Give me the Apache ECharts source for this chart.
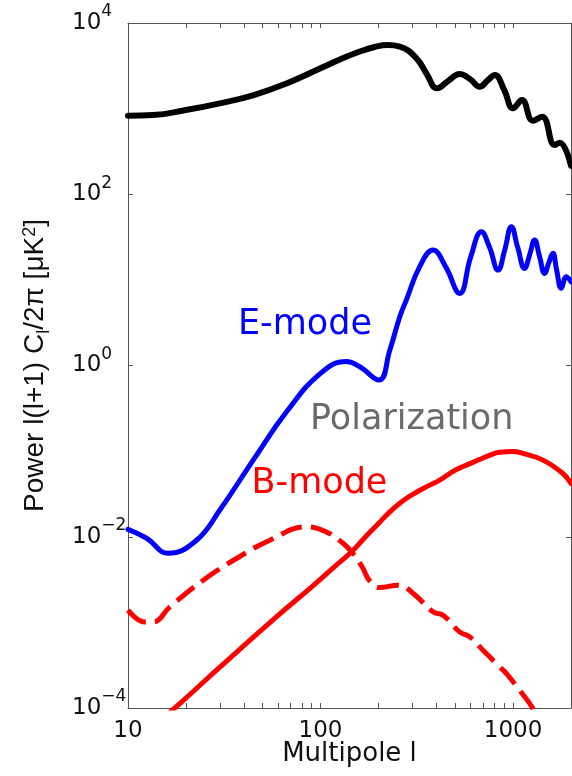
<!DOCTYPE html>
<html><head><meta charset="utf-8">
<script src="https://cdn.jsdelivr.net/npm/echarts@6/dist/echarts.min.js"></script>
<style>html,body{margin:0;padding:0;background:#fff}#c{width:572px;height:776px}</style>
</head><body><div id="c"></div>
<script>
// ---- data ----
const xTickValues = [10,20,30,40,50,60,70,80,90,100,200,300,400,500,600,700,800,900,1000,2000];
const xLabelValues = [10,100,1000];
const yTickValues = [1e-4,1e-2,1,1e2,1e4];

// Temperature spectrum (black)
const ttL = [10,13.5,20,30,45,67,100,126,160,191,223,258,315,356,403,460,528,600,671,740,803,900,1000,1112,1268,1418,1644,1746,2000];
const ttV = [826,841,964,1153,1442,1977,2958,3750,4645,5250,5530,5310,3870,2535,1726,2100,2535,2200,1803,2150,2472,1650,1007,1259,722,804,376,400,215];

// E-mode polarization (blue)
const eeL = [10,12.5,16.2,22.7,30,44.7,66.6,100,136,160,201,229,258,279,327,384,447,528,603,685,755,836,904,980,1057,1148,1219,1294,1374,1459,1531,1611,1684,1781,1891,2000];
const eeV = [0.0122,0.0096,0.0064,0.0091,0.0205,0.0785,0.288,0.81,1.11,0.966,0.675,1.51,3.71,5.8,14.2,22.3,14.2,6.95,18.6,36.5,24,13,22,41.7,24,13.6,19.5,29.2,18.6,11.9,15.7,20.4,13,7.96,10.9,9.5];

// B-mode from gravitational waves (red dashed)
const bbgL = [10,12.3,13.5,16.5,24.6,36.6,54.6,84.6,107,130,147.6,165,180,203,253,303,384,433,528,596,698,852,922,1082,1268,1400];
const bbgV = [0.00139,0.00101,0.00101,0.00152,0.00311,0.00557,0.00912,0.01305,0.0114,0.0085,0.00638,0.0044,0.00305,0.00255,0.00272,0.00218,0.00133,0.00121,0.000775,0.000677,0.000473,0.000302,0.000253,0.000161,0.0000986,0.00006];

// B-mode from lensing (red solid)
const bblL = [15,18.2,30,60,90,120,145,170,203,229,260,303,360,416,488,550,671,760,852,1000,1125,1430,1816,2000];
const bblV = [0.000075,0.000108,0.0003,0.0012,0.0026,0.0046,0.00667,0.0098,0.0148,0.0195,0.025,0.0315,0.039,0.0458,0.058,0.066,0.08,0.09,0.097,0.099,0.094,0.0785,0.0548,0.042];

const zip = (a,b) => a.map((v,i) => [v, b[i]]);
const FONT = 'DejaVu Sans';
const AX = '#555';

const supFmt = v => {
  const e = Math.round(Math.log10(v));
  return '{b|10}{s|' + (e < 0 ? '\u2212' + (-e) : String(e)) + '}';
};

const chart = echarts.init(document.getElementById('c'), null, {renderer:'canvas'});
const baseX = {
  type:'log', logBase:10, min:10, max:2000,
  axisLine:{show:true, onZero:false, lineStyle:{color:AX, width:1}},
  axisTick:{show:true, inside:true, length:5, customValues:xTickValues, lineStyle:{color:AX, width:1}},
  splitLine:{show:false}, minorTick:{show:false}
};
const baseY = {
  type:'log', logBase:10, min:1e-4, max:1e4,
  axisLine:{show:true, onZero:false, lineStyle:{color:AX, width:1}},
  axisTick:{show:true, inside:true, length:5, customValues:yTickValues, lineStyle:{color:AX, width:1}},
  splitLine:{show:false}, minorTick:{show:false}
};

chart.setOption({
  animation:false,
  backgroundColor:'#fff',
  grid:{left:128, right:1, top:23, bottom:68, containLabel:false, outerBoundsMode:'none', show:false},
  xAxis:[
    Object.assign({}, baseX, {
      position:'bottom',
      axisLabel:{customValues:xLabelValues, margin:12, fontSize:23, fontFamily:FONT, color:'#111',
        formatter: v => String(Math.round(v))},
      name:'Multipole l', nameLocation:'middle', nameGap:33, nameMoveOverlap:false,
      nameTextStyle:{fontSize:26, fontFamily:FONT, color:'#111'}
    }),
    Object.assign({}, baseX, {position:'top', axisLabel:{show:false}})
  ],
  yAxis:[
    Object.assign({}, baseY, {
      position:'left',
      axisLabel:{customValues:yTickValues, margin:56, align:'left', color:'#111', formatter:supFmt,
        rich:{
          b:{fontSize:23, lineHeight:23, fontFamily:FONT, color:'#111', verticalAlign:'bottom'},
          s:{fontSize:17, lineHeight:17, fontFamily:FONT, color:'#111', verticalAlign:'bottom', padding:[0,0,14,0]}
        }},
      name:'Power l(l+1) C{sub|l}/2\u03c0 [\u03bcK{sup|2}]', nameLocation:'middle', nameGap:79, nameMoveOverlap:false,
      nameTextStyle:{fontSize:28, fontFamily:'Liberation Sans', color:'#111',
        rich:{
          sub:{fontSize:18, lineHeight:18, fontFamily:'Liberation Sans', color:'#111', verticalAlign:'top', padding:[14,0,0,0]},
          sup:{fontSize:18, lineHeight:18, fontFamily:'Liberation Sans', color:'#111', verticalAlign:'top'}
        }}
    }),
    Object.assign({}, baseY, {position:'right', axisLabel:{show:false}})
  ],
  series:[
    {type:'line', name:'BB lensing', data:zip(bblL,bblV), xAxisIndex:0, yAxisIndex:0, showSymbol:false, smooth:0.45, clip:true,
      lineStyle:{color:'#ff0000', width:5, cap:'round'}},
    {type:'line', name:'BB gw', data:zip(bbgL,bbgV), xAxisIndex:0, yAxisIndex:0, showSymbol:false, smooth:0.45, clip:true,
      lineStyle:{color:'#ff0000', width:5, type:[22,9], cap:'butt'}},
    {type:'line', name:'EE', data:zip(eeL,eeV), xAxisIndex:0, yAxisIndex:0, showSymbol:false, smooth:0.45, clip:true,
      lineStyle:{color:'#0000ff', width:5, cap:'round'}},
    {type:'line', name:'TT', data:zip(ttL,ttV), xAxisIndex:0, yAxisIndex:0, showSymbol:false, smooth:0.45, clip:true,
      lineStyle:{color:'#000000', width:6, cap:'round'}}
  ],
  graphic:[
    {type:'text', x:238, y:324.5, style:{text:'E-mode', fontSize:35, fontFamily:FONT, fill:'#0000ff', align:'left', verticalAlign:'middle'}},
    {type:'text', x:310, y:420, style:{text:'Polarization', fontSize:35, fontFamily:FONT, fill:'#6b6b6b', align:'left', verticalAlign:'middle'}},
    {type:'text', x:251.5, y:484, style:{text:'B-mode', fontSize:35, fontFamily:FONT, fill:'#ff0000', align:'left', verticalAlign:'middle'}}
  ]
});
</script>
</body></html>
